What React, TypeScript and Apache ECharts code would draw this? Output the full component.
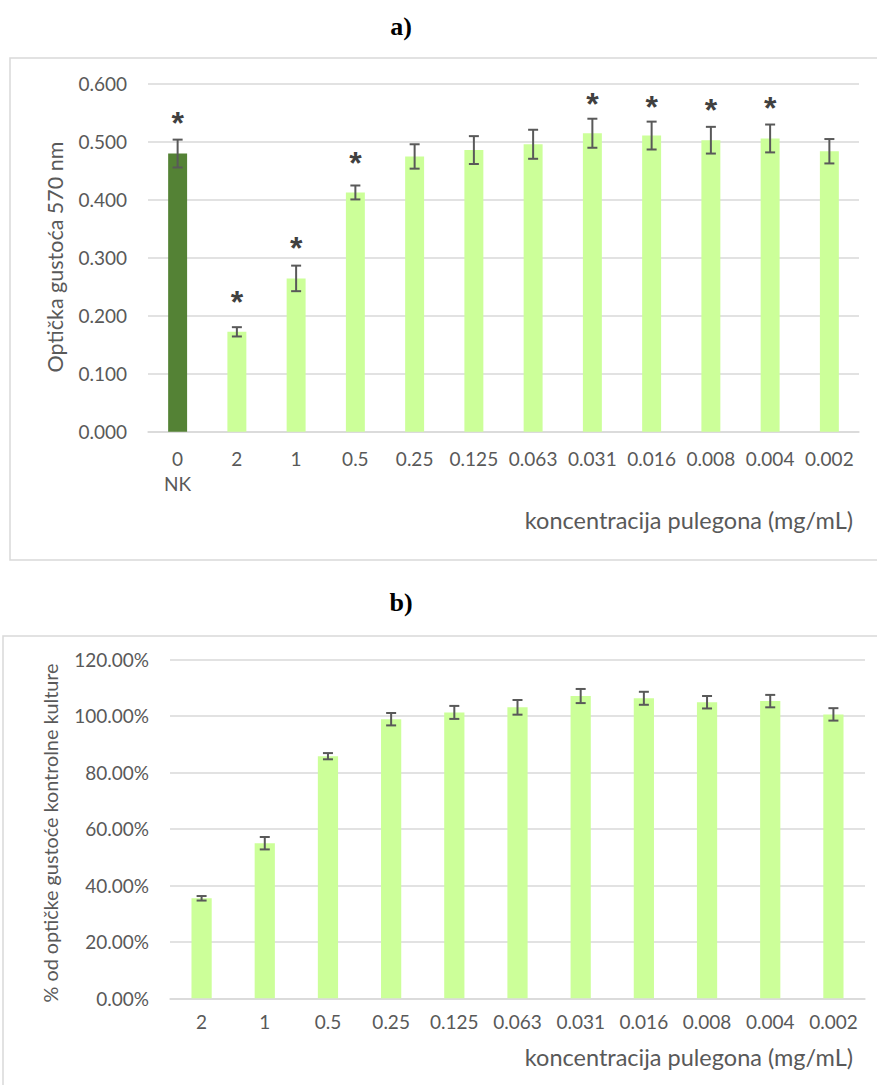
import React, { useEffect, useRef } from "react";
import * as echarts from "echarts";

// ---- data: chart a) optical density ----
const categoriesA = ["0\nNK", "2", "1", "0.5", "0.25", "0.125", "0.063", "0.031", "0.016", "0.008", "0.004", "0.002"];
const odValues = [0.479, 0.172, 0.264, 0.412, 0.474, 0.485, 0.495, 0.514, 0.51, 0.502, 0.505, 0.483];
const odErrors = [0.024, 0.008, 0.022, 0.012, 0.021, 0.024, 0.025, 0.025, 0.024, 0.023, 0.024, 0.021];
const asteriskA = [0.54, 0.232, 0.325, 0.471, null, null, null, 0.573, 0.568, 0.563, 0.566, null];
const yTicksA = { min: 0, max: 0.6, interval: 0.1 };

// ---- data: chart b) percent of control ----
const categoriesB = ["2", "1", "0.5", "0.25", "0.125", "0.063", "0.031", "0.016", "0.008", "0.004", "0.002"];
const pctValues = [35.4, 54.9, 85.7, 98.8, 101.2, 103.0, 107.0, 106.2, 104.8, 105.2, 100.5];
const pctErrors = [0.8, 2.2, 1.1, 2.2, 2.3, 2.6, 2.5, 2.3, 2.2, 2.2, 2.2];
const yTicksB = { min: 0, max: 120, interval: 20 };

const titleA = "a)";
const titleB = "b)";
const xNameA = "koncentracija pulegona (mg/mL)";
const yNameA = "Optička gustoća 570 nm";
const yNameB = "% od optičke gustoće kontrolne kulture";

const FONT = "Lato";
const TXT = "#595959";
const GRID = "#D9D9D9";
const LIGHT = "#CCFF99";
const DARK = "#548235";
const ERR = "#595959";

function errorRenderer(params: any, api: any) {
  const x = api.value(0);
  const v = api.value(1);
  const e = api.value(2);
  const hi = api.coord([x, v + e]);
  const lo = api.coord([x, v - e]);
  const half = 5;
  const st = { stroke: ERR, lineWidth: 2 };
  return {
    type: "group",
    children: [
      { type: "line", shape: { x1: hi[0], y1: hi[1], x2: lo[0], y2: lo[1] }, style: st },
      { type: "line", shape: { x1: hi[0] - half, y1: hi[1], x2: hi[0] + half, y2: hi[1] }, style: st },
      { type: "line", shape: { x1: lo[0] - half, y1: lo[1], x2: lo[0] + half, y2: lo[1] }, style: st },
    ],
  };
}

function starRenderer(params: any, api: any) {
  const p = api.coord([api.value(0), api.value(1)]);
  return {
    type: "text",
    x: p[0],
    y: p[1] + 5,
    style: {
      text: "*",
      fill: "#404040",
      font: `bold 32px "Liberation Sans"`,
      align: "center",
      verticalAlign: "middle",
    },
  };
}

export default function App() {
  const ref = useRef<HTMLDivElement>(null);
  useEffect(() => {
    if (!ref.current) return;
    const chart = echarts.init(ref.current, undefined, { renderer: "svg" });
    const axisLabel = { color: TXT, fontFamily: FONT, fontSize: 19, interval: 0 };
    const option: any = {
      animation: false,
      backgroundColor: "#ffffff",
      textStyle: { fontFamily: FONT },
      graphic: [
        { type: "rect", shape: { x: 10, y: 58, width: 900, height: 502 }, style: { fill: "none", stroke: GRID, lineWidth: 1.5 } },
        { type: "rect", shape: { x: 3, y: 636, width: 900, height: 500 }, style: { fill: "none", stroke: GRID, lineWidth: 1.5 } },
        { type: "text", x: 401, y: 26, style: { text: titleA, font: 'bold 26px "Liberation Serif"', fill: "#000", align: "center", verticalAlign: "middle" } },
        { type: "text", x: 401, y: 602, style: { text: titleB, font: 'bold 26px "Liberation Serif"', fill: "#000", align: "center", verticalAlign: "middle" } },
        { type: "text", x: 853, y: 520, style: { text: xNameA, font: `23.5px ${FONT}`, fill: TXT, align: "right", verticalAlign: "middle" } },
        { type: "text", x: 853, y: 1057, style: { text: xNameA, font: `23.5px ${FONT}`, fill: TXT, align: "right", verticalAlign: "middle" } },
        { type: "text", x: 55, y: 257, rotation: Math.PI / 2, style: { text: yNameA, font: `21.5px ${FONT}`, fill: TXT, align: "center", verticalAlign: "middle" } },
        { type: "text", x: 50, y: 833, rotation: Math.PI / 2, style: { text: yNameB, font: `19.8px ${FONT}`, fill: TXT, align: "center", verticalAlign: "middle" } },
      ],
      grid: [
        { left: 148, right: 18, top: 83.3, height: 348.4 },
        { left: 170, right: 12, top: 659.3, height: 339 },
      ],
      xAxis: [
        {
          type: "category", gridIndex: 0, data: categoriesA,
          axisLine: { lineStyle: { color: GRID, width: 1.5 } }, axisTick: { show: false },
          axisLabel: { ...axisLabel, margin: 14, lineHeight: 25 },
        },
        {
          type: "category", gridIndex: 1, data: categoriesB,
          axisLine: { lineStyle: { color: GRID, width: 1.5 } }, axisTick: { show: false },
          axisLabel: { ...axisLabel, margin: 14 },
        },
      ],
      yAxis: [
        {
          type: "value", gridIndex: 0, ...yTicksA,
          axisLine: { show: false }, axisTick: { show: false },
          splitLine: { lineStyle: { color: GRID, width: 1.5 } },
          axisLabel: { ...axisLabel, margin: 21, formatter: (v: number) => v.toFixed(3) },
        },
        {
          type: "value", gridIndex: 1, ...yTicksB,
          axisLine: { show: false }, axisTick: { show: false },
          splitLine: { lineStyle: { color: GRID, width: 1.5 } },
          axisLabel: { ...axisLabel, margin: 21, formatter: (v: number) => v.toFixed(2) + "%" },
        },
      ],
      series: [
        {
          type: "bar", xAxisIndex: 0, yAxisIndex: 0, barWidth: "32%",
          data: odValues.map((v, i) => ({ value: v, itemStyle: { color: i === 0 ? DARK : LIGHT } })),
        },
        {
          type: "custom", xAxisIndex: 0, yAxisIndex: 0, renderItem: errorRenderer,
          encode: { x: 0, y: 1 }, z: 5,
          data: odValues.map((v, i) => [i, v, odErrors[i]]),
        },
        {
          type: "custom", xAxisIndex: 0, yAxisIndex: 0, renderItem: starRenderer,
          encode: { x: 0, y: 1 }, z: 6,
          data: asteriskA.map((v, i) => (v == null ? null : [i, v])).filter((d) => d !== null),
        },
        {
          type: "bar", xAxisIndex: 1, yAxisIndex: 1, barWidth: "32%",
          itemStyle: { color: LIGHT }, data: pctValues,
        },
        {
          type: "custom", xAxisIndex: 1, yAxisIndex: 1, renderItem: errorRenderer,
          encode: { x: 0, y: 1 }, z: 5,
          data: pctValues.map((v, i) => [i, v, pctErrors[i]]),
        },
      ],
    };
    chart.setOption(option);
    return () => chart.dispose();
  }, []);
  return (
    <div
      ref={ref}
      style={{ position: "absolute", left: 0, top: 0, width: 877, height: 1085, background: "#fff" }}
    />
  );
}
